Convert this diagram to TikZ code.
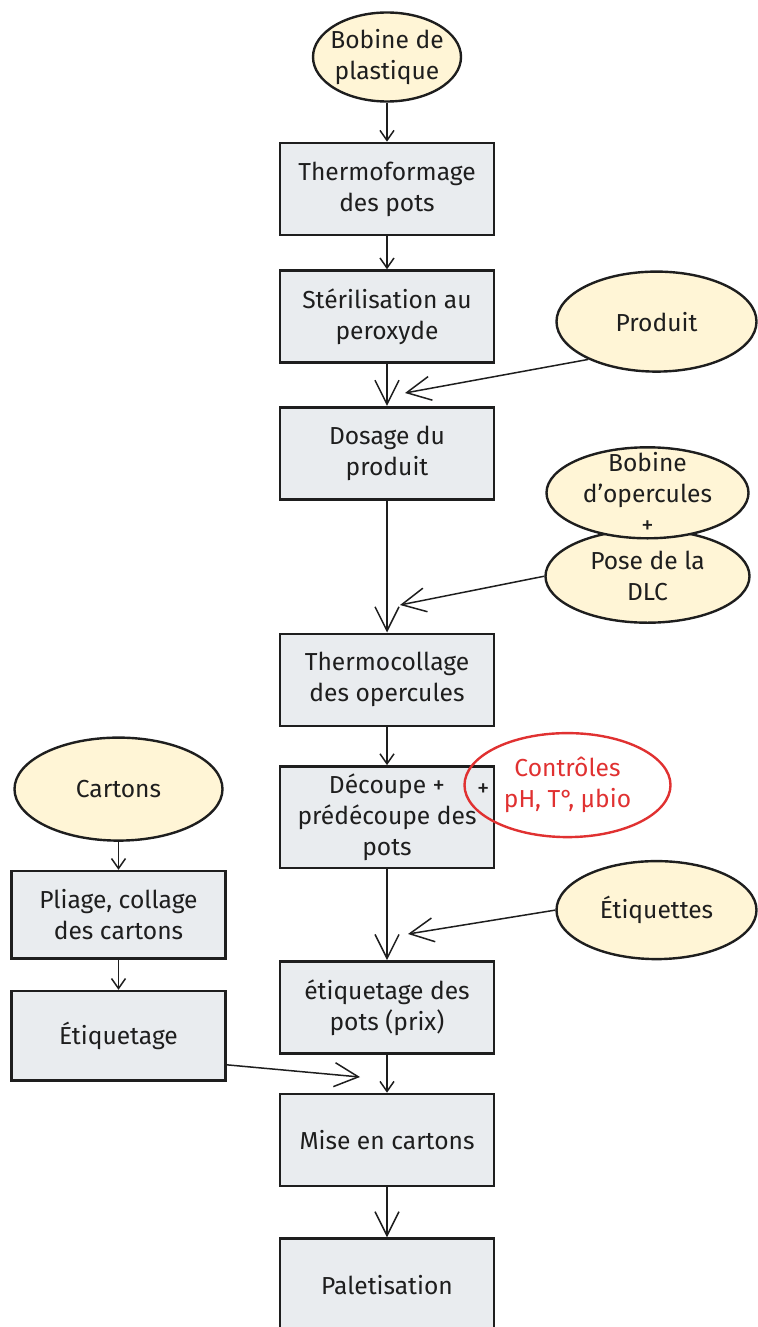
\documentclass[tikz,border=0pt]{standalone}
\usepackage{fontspec}
\setmainfont{Fira Sans}
\usetikzlibrary{positioning,arrows.meta,shapes.geometric}
\definecolor{boxfill}{HTML}{E9ECEF}
\definecolor{ovalfill}{HTML}{FFF5D6}
\definecolor{ink}{HTML}{1E1E1E}
\definecolor{ctrlred}{HTML}{E03131}

\begin{document}
\begin{tikzpicture}[x=0.5pt, y=-0.5pt, every node/.style={font=\fontsize{12.3}{15.5}\selectfont, text=ink, align=center},
  box/.style={draw=ink, line width=1.3pt, fill=boxfill, minimum width=107pt, minimum height=46pt, inner sep=2pt},
  oval/.style={ellipse, draw=ink, line width=1.2pt, fill=ovalfill, inner sep=-20pt},
  arr/.style={-{Straight Barb[length=5pt, width=7pt]}, line width=0.75pt, draw=ink},
  arrbig/.style={-{Straight Barb[length=12pt, width=12pt]}, line width=0.75pt, draw=ink}]
\useasboundingbox (0,0) rectangle (757,1327);
% main line
\node[oval, minimum width=74pt, minimum height=44.5pt] (bobine) at (387,57) {Bobine de\\plastique};
\node[box, below=19.5pt of bobine] (thermo) {Thermoformage\\des pots};
\node[box, below=16.5pt of thermo] (steril) {Stérilisation au\\peroxyde};
\node[box, below=21pt of steril] (dosage) {Dosage du\\produit};
\node[box, below=66pt of dosage] (collage) {Thermocollage\\des opercules};
\node[box, below=19pt of collage, minimum height=50.7pt] (decoupe) {Découpe +\\prédécoupe des\\pots};
\node[box, below=45.5pt of decoupe] (etiqpots) {étiquetage des\\pots (prix)};
\node[box, below=19pt of etiqpots] (mise) {Mise en cartons};
\node[box, below=25pt of mise] (palet) {Paletisation};
% inputs
\node[oval, minimum width=100pt, minimum height=50pt, right=30pt of steril, yshift=-2.5pt] (produit) {Produit};
\node[oval, minimum width=102pt, minimum height=46.5pt, right=24.5pt of dosage, yshift=-61.5pt] (pose) {Pose de la\\DLC};
\node[oval, minimum width=101pt, minimum height=45.5pt, above=-5.5pt of pose] (opercules) {Bobine\\d'opercules\\+};
\node[oval, draw=ctrlred, fill=none, text=ctrlred, minimum width=103pt, minimum height=52pt, right=-16pt of decoupe, yshift=16pt] (ctrl) {Contrôles\\pH, T°, µbio};
\node (plus) at ([xshift=10pt, yshift=-2.5pt]ctrl.west) {+};
\node[oval, minimum width=100pt, minimum height=49pt, right=30pt of decoupe.south east, yshift=-20.5pt] (etiquettes) {Étiquettes};
% cartons
\node[oval, minimum width=104pt, minimum height=51.5pt, left=27.5pt of decoupe, yshift=14pt] (cartons) {Cartons};
\node[box, below=14pt of cartons, minimum height=43.7pt] (pliage) {Pliage, collage\\des cartons};
\node[box, below=15pt of pliage, minimum height=44.7pt] (etiq) {Étiquetage};
\coordinate (inprod) at (405,393);
\coordinate (indlc) at (400,605);
\coordinate (inetiq) at (408,934);
\coordinate (incart) at (360,1077);
\foreach \a/\b in {bobine/thermo, thermo/steril, collage/decoupe, etiqpots/mise, cartons/pliage, pliage/etiq} \draw[arr] (\a) -- (\b);
\foreach \a/\b in {steril/dosage, dosage/collage, decoupe/etiqpots, mise/palet, produit.209/inprod, pose.west/indlc, etiquettes.west/inetiq, etiq.-15/incart} \draw[arrbig] (\a) -- (\b);
\end{tikzpicture}
\end{document}
